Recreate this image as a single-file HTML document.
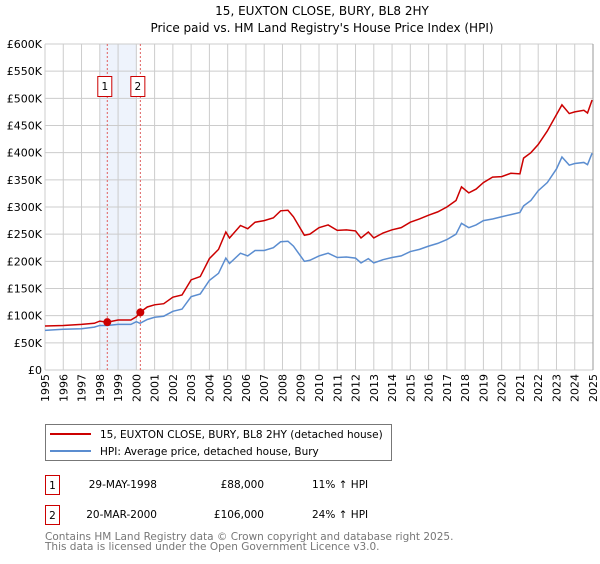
<!DOCTYPE html>
<html><head><meta charset="utf-8"><style>
body{margin:0;background:#fff;font-family:"DejaVu Sans","Liberation Sans",sans-serif;}
svg text{font-family:"DejaVu Sans","Liberation Sans",sans-serif;}
</style></head><body>
<svg id="c" width="600" height="560" xmlns="http://www.w3.org/2000/svg">
<text x="322" y="15" font-size="12" text-anchor="middle">15, EUXTON CLOSE, BURY, BL8 2HY</text>
<text x="322" y="32" font-size="12" text-anchor="middle">Price paid vs. HM Land Registry's House Price Index (HPI)</text>
<g id="grid"></g>
<g id="marks"></g>
<g>
<rect x="45.5" y="424.5" width="346" height="36" fill="#fff" stroke="#777"/>
<line x1="50" y1="434" x2="91" y2="434" stroke="#cc0000" stroke-width="2"/>
<text x="100" y="438" font-size="10.5">15, EUXTON CLOSE, BURY, BL8 2HY (detached house)</text>
<line x1="50" y1="451" x2="91" y2="451" stroke="#5b8dd0" stroke-width="2"/>
<text x="100" y="455" font-size="10.5">HPI: Average price, detached house, Bury</text>
</g>
<g font-size="10.5">
<rect x="45.5" y="475.5" width="14" height="19" fill="#fff" stroke="#cc0000"/>
<text x="52.5" y="489" text-anchor="middle">1</text>
<text x="157" y="488" text-anchor="end">29-MAY-1998</text>
<text x="264" y="488" text-anchor="end">£88,000</text>
<text x="312" y="488">11% ↑ HPI</text>
<rect x="45.5" y="505.5" width="14" height="19" fill="#fff" stroke="#cc0000"/>
<text x="52.5" y="519" text-anchor="middle">2</text>
<text x="157" y="518" text-anchor="end">20-MAR-2000</text>
<text x="264" y="518" text-anchor="end">£106,000</text>
<text x="312" y="518">24% ↑ HPI</text>
</g>
<text x="45" y="540" font-size="10.5" fill="#777">Contains HM Land Registry data © Crown copyright and database right 2025.</text>
<text x="45" y="550" font-size="10.5" fill="#777">This data is licensed under the Open Government Licence v3.0.</text>
</svg>
<script>
const dates=[1995,1996,1997,1997.7,1998,1998.4,1999,1999.7,2000,2000.2,2000.6,2001,2001.5,2002,2002.5,2003,2003.5,2004,2004.5,2004.9,2005.1,2005.7,2006.1,2006.5,2007,2007.5,2007.9,2008.3,2008.6,2009.2,2009.5,2010,2010.5,2011,2011.5,2012,2012.3,2012.7,2013,2013.5,2014,2014.5,2015,2015.5,2016,2016.5,2017,2017.5,2017.8,2018.2,2018.6,2019,2019.5,2020,2020.5,2021,2021.2,2021.6,2022,2022.5,2023,2023.3,2023.7,2024,2024.5,2024.7,2024.95];
const hpiValues=[73,75,76,79,82,82,84,84,89,86,93,97,99,108,112,135,140,165,178,206,196,215,210,220,220,225,236,237,228,200,202,210,215,207,208,206,197,205,197,203,207,210,218,222,228,233,240,250,270,262,267,275,278,282,286,290,302,312,330,345,370,392,377,380,382,378,399];
const priceValues=[81,82,84,86,90,88,92,92,98,106,116,120,122,134,138,166,172,205,222,254,243,266,260,272,275,280,293,294,282,248,250,262,267,257,258,256,243,254,243,252,258,262,272,278,285,291,300,312,337,326,333,345,355,356,362,361,390,400,415,440,470,488,472,475,478,473,497];
const yTicks=[0,50,100,150,200,250,300,350,400,450,500,550,600];
const yLabels=["£0","£50K","£100K","£150K","£200K","£250K","£300K","£350K","£400K","£450K","£500K","£550K","£600K"];
const xTicks=[1995,1996,1997,1998,1999,2000,2001,2002,2003,2004,2005,2006,2007,2008,2009,2010,2011,2012,2013,2014,2015,2016,2017,2018,2019,2020,2021,2022,2023,2024,2025];
const saleDates=[1998.41,2000.22];
const saleValues=[88,106];
const saleLabels=["1","2"];
const NS="http://www.w3.org/2000/svg";
const L=45,R=593,T=44,B=370;
const xs=d=>L+(d-1995)/30*(R-L);
const ys=v=>B-v/600*(B-T);
function mk(tag,attrs,parent){const e=document.createElementNS(NS,tag);for(const k in attrs)e.setAttribute(k,attrs[k]);parent.appendChild(e);return e;}
const grid=document.getElementById('grid'),marks=document.getElementById('marks');
const band=mk('rect',{x:xs(1998),y:T,width:xs(2000)-xs(1998),height:B-T,fill:'#eef3fc'},grid);


yTicks.forEach((t,i)=>{
 mk('line',{x1:L,x2:R,y1:ys(t),y2:ys(t),stroke:'#ccc'},grid);
 const tx=mk('text',{x:L-3,y:ys(t)+4,'font-size':11,'text-anchor':'end'},grid);
 tx.textContent=yLabels[i];
 
 
});
xTicks.forEach(t=>{
 mk('line',{x1:xs(t),x2:xs(t),y1:T,y2:B,stroke:'#ccc'},grid);
 const px=xs(t)+4,py=B+4;
 const tx=mk('text',{x:px,y:py,'font-size':11,'text-anchor':'end',transform:'rotate(-90,'+px+','+py+')'},grid);
 tx.textContent=t;
 
 
});
mk('line',{x1:R,x2:R,y1:T,y2:B,stroke:'#999'},grid);
saleDates.forEach((d,i)=>{
 const ln=mk('line',{x1:xs(d),x2:xs(d),y1:T,y2:B,stroke:'#e06060','stroke-dasharray':'2,2'},grid);
 
 
 const bx=mk('rect',{x:xs(d)-9.5,y:76.5,width:14,height:20,fill:'#fff',stroke:'#cc0000'},grid);
 
 
 const tx=mk('text',{x:xs(d)-2.5,y:90,'font-size':10.5,'text-anchor':'middle'},grid);
 tx.textContent=saleLabels[i];
});
function line(vals,color,name){
 const p=mk('polyline',{points:dates.map((d,i)=>xs(d)+','+ys(vals[i])).join(' '),fill:'none',stroke:color,'stroke-width':1.5},marks);
 
 
}
line(hpiValues,'#5b8dd0','hpi-line');
line(priceValues,'#cc0000','price-paid-line');
saleDates.forEach((d,i)=>{
 const c=mk('circle',{cx:xs(d),cy:ys(saleValues[i]),r:4,fill:'#cc0000'},marks);
 
 
});
</script>
</body></html>
